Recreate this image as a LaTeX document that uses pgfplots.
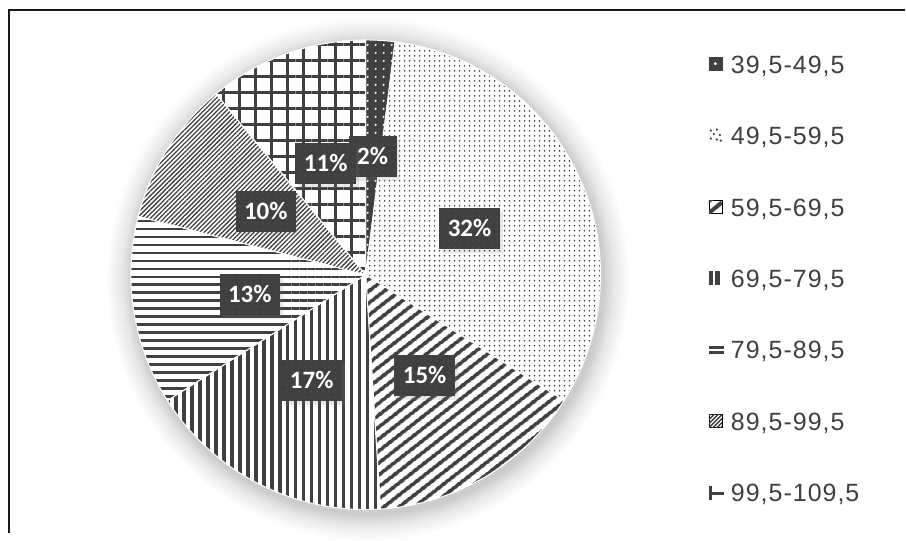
\documentclass[border=0pt]{standalone}
\usepackage{pgfplots}
\pgfplotsset{compat=1.18}
\usepackage{pgfplotstable}
\usepackage{fontspec}
\setmainfont{Liberation Sans}
\newfontfamily\legfont{Liberation Sans}[LetterSpace=4]
\newfontfamily\labfont{Carlito}
\usetikzlibrary{patterns.meta, shadows}
\definecolor{dk}{HTML}{404040}

% share of each class (%), and where its label box sits (pixel coords)
\pgfplotstableread{
share lx ly
2  373 157
32 470 229
15 425 376
17 312 381
13 250 295
10 266 212
11 326 164
}\pietable

% soft glow round the pie: radius 25bp of the shading is the circle's radius
\pgfdeclareradialshading{glow}{\pgfpoint{0bp}{0bp}}{color(0bp)=(black!20); color(22.5bp)=(black!20); color(23.5bp)=(black!9); color(25bp)=(white); color(50bp)=(white)}

\tikzset{
  s0/.style={fill=dk, postaction={pattern={Dots[distance=8bp, radius=1.1bp]}, pattern color=white}},
  s1/.style={preaction={fill=white}, pattern={Dots[distance=5bp, radius=0.9bp]}, pattern color=dk},
  s2/.style={preaction={fill=white}, pattern={Lines[angle=38, distance=9.5bp, line width=4bp]}, pattern color=dk},
  s3/.style={preaction={fill=white}, pattern={Lines[angle=90, distance=8bp, line width=3.5bp]}, pattern color=dk},
  s4/.style={preaction={fill=white}, pattern={Lines[angle=0, distance=8bp, line width=2.5bp]}, pattern color=dk},
  s5/.style={preaction={fill=white}, pattern={Lines[angle=45, distance=3.2bp, line width=1.3bp]}, pattern color=dk},
  s6/.style={preaction={fill=white}, pattern={Hatch[distance=16bp, line width=3bp]}, pattern color=dk},
  lab/.style={fill=dk, text=white, font=\labfont\bfseries\fontsize{25bp}{25bp}\selectfont,
    inner xsep=8.5bp, inner ysep=0pt, minimum height=41bp, text height=16bp, text depth=0pt,
    drop shadow={opacity=0.18, shadow xshift=3bp, shadow yshift=-4bp},
    postaction={pattern={Dots[distance=6bp, radius=0.7bp]}, pattern color=dk!85!white}},
  leg/.style={yshift=3bp},
}

\begin{document}
\begin{tikzpicture}
\begin{axis}[
  scale only axis, width=906bp, height=533bp,
  xmin=0, xmax=906, ymin=0, ymax=533, y dir=reverse,
  hide axis, clip=false,
  legend cell align=left,
  legend style={at={(axis cs:709,56)}, anchor=north west, draw=none, fill=none,
    inner sep=0pt, font=\legfont\fontsize{25bp}{25bp}\selectfont, text=dk, row sep=50.5bp,
    nodes={inner sep=0pt, text height=17bp, text depth=4bp},
    /tikz/every odd column/.append style={column sep=8bp}},
]
\path (axis cs:0,0) rectangle (axis cs:906,533);
\draw[black!90, line width=1.6bp] (axis cs:9,533) -- (axis cs:9,10) -- (axis cs:906,10);

\addlegendimage{legend image code/.code={\begin{scope}[leg]
  \fill[dk] (0bp,-6.5bp) rectangle (13bp,6.5bp); \fill[white] (6.5bp,0bp) circle[radius=1.3bp];\end{scope}}}
\addlegendentry{39,5-49,5}
\addlegendimage{legend image code/.code={\begin{scope}[leg]
  \foreach \p in {(2bp,4.5bp),(8bp,5.5bp),(5bp,1bp),(11bp,0bp),(2bp,-3.5bp),(8bp,-4.5bp),(12bp,-5.5bp)}
    \fill[dk] \p circle[radius=0.9bp];\end{scope}}}
\addlegendentry{49,5-59,5}
\addlegendimage{legend image code/.code={\begin{scope}[leg]
  \clip (0bp,-6.5bp) rectangle (13bp,6.5bp);
  \draw[dk, line width=4bp] (-3bp,-9bp) -- (13bp,4bp);
  \fill[dk] (0bp,6.5bp) -- (4bp,6.5bp) -- (0bp,3bp) -- cycle;\end{scope}}}
\addlegendentry{59,5-69,5}
\addlegendimage{legend image code/.code={\begin{scope}[leg]
  \fill[dk] (0bp,-6.5bp) rectangle (3.5bp,6.5bp); \fill[dk] (6.5bp,-6.5bp) rectangle (10bp,6.5bp);\end{scope}}}
\addlegendentry{69,5-79,5}
\addlegendimage{legend image code/.code={\begin{scope}[leg]
  \fill[dk] (0bp,1.5bp) rectangle (14bp,3.5bp); \fill[dk] (0bp,-3.5bp) rectangle (14bp,-1.5bp);\end{scope}}}
\addlegendentry{79,5-89,5}
\addlegendimage{legend image code/.code={\begin{scope}[leg]
  \clip (0bp,-6.5bp) rectangle (13bp,6.5bp);
  \foreach \k in {-12,-8,...,12} \draw[dk, line width=1.3bp] (\k bp,-7bp) -- (\k bp+14bp,7bp);\end{scope}}}
\addlegendentry{89,5-99,5}
\addlegendimage{legend image code/.code={\begin{scope}[leg]
  \fill[dk] (0bp,-6.5bp) rectangle (2.5bp,6.5bp); \fill[dk] (0bp,-2bp) rectangle (14bp,0.2bp);\end{scope}}}
\addlegendentry{99,5-109,5}

\pgfplotsextra{
  \shade[shading=glow] (axis cs:368,279) circle[radius=262bp];
  \def\cum{0}
  \pgfplotsforeachungrouped \i in {0,...,6}{
    \pgfplotstablegetelem{\i}{share}\of\pietable \let\v\pgfplotsretval
    \pgfmathsetmacro\a{90-3.6*\cum}
    \pgfmathsetmacro\b{90-3.6*(\cum+\v)}
    \edef\tmp{\noexpand\path[s\i, draw=white, line width=1bp] (axis cs:366,275) -- ++(\a:235bp)
      arc[start angle=\a, end angle=\b, radius=235bp] -- cycle;}
    \tmp
    \pgfmathsetmacro\cum{\cum+\v}
  }
  \pgfplotsforeachungrouped \i in {0,...,6}{
    \pgfplotstablegetelem{\i}{share}\of\pietable \let\v\pgfplotsretval
    \pgfplotstablegetelem{\i}{lx}\of\pietable \let\lx\pgfplotsretval
    \pgfplotstablegetelem{\i}{ly}\of\pietable \let\ly\pgfplotsretval
    \node[lab] at (axis cs:\lx,\ly) {\v\%};
  }
}
\end{axis}
\end{tikzpicture}
\end{document}
